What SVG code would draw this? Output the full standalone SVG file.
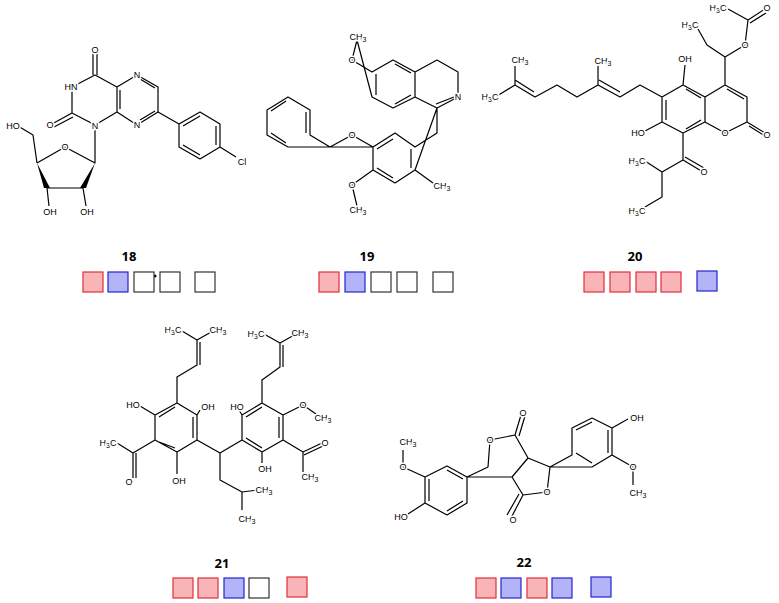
<svg xmlns="http://www.w3.org/2000/svg" width="779" height="603" viewBox="0 0 779 603">
<style>
.b{stroke:#000;stroke-width:1.2;fill:none;stroke-linejoin:round}
.t{font-family:"Liberation Sans",Arial,sans-serif;font-size:9px;fill:#000;stroke:#fff;stroke-width:3;paint-order:stroke;text-anchor:middle;dominant-baseline:central}
.n{font-family:"Open Sans","Liberation Sans",sans-serif;font-size:13px;font-weight:bold;text-anchor:middle;fill:#000}
.r{fill:#f8b4b6;stroke:#e0303a;stroke-width:1.2}
.u{fill:#b3b3f8;stroke:#2424d0;stroke-width:1.2}
.w{fill:#fff;stroke:#333;stroke-width:1.2}
</style>
<rect width="779" height="603" fill="#fff"/>
<g id="connectors">
<!-- 18 -->
<path class="b" d="M95,75 L72,87 L72,113 L95,125 L117,112 L117,87 L95,75 M93,75 L93,52 M97,75 L97,52 M72,113 L52,124 M73,117 L54,127 M120,90 L120,109 M117,87 L137,75 L158,87 L158,112 L137,125 L117,112 M140,79 L155,88 M155,111 L140,120 M158,112 L179,124 M179,124 L200,112 L220,124 L220,147 L200,159 L179,147 Z M183,126 L200,116 M216,126 L216,145 M183,145 L200,155 M220,147 L236,157 M95,125 L95,163 L65,147 L37,163 M83,188 L47,188 M37,163 L33,135 L18,126 M47,188 L49,206 M83,188 L86,206"/>
<path d="M37,163 L44,188 L50,188 Z M95,163 L80,188 L86,188 Z" fill="#000"/>
<circle cx="155" cy="276" r="1.5" fill="#000"/>
<!-- 19 -->
<path class="b" d="M357,40 L352,60 L372,72 L393,60 L415,72 L415,97 L393,108 L372,97 Z M376,74 L376,95 M395,64 L411,73 M395,104 L411,95 M415,72 L437,60 L458,72 L458,97 L437,108 L415,97 M454,97 L436,104 M437,108 L437,133 L415,147 L395,133 L373,147 L373,170 L395,183 L415,170 Z M411,149 L411,168 M377,149 L393,139 M377,168 L393,178 M415,170 L433,183 M373,147 L352,135 L330,147 L310,135 L310,110 L288,97 L267,110 L267,135 L288,147 Z M306,112 L306,133 M286,101 L271,111 M271,133 L286,143 M373,170 L352,185 L357,206"/>
<!-- 20 -->
<path class="b" d="M683,85 L662,97 L662,122 L683,133 L705,122 L705,97 Z M686,89 L701,98 M666,100 L666,120 M686,129 L701,120 M705,97 L725,85 L747,97 L747,122 L725,133 L705,122 M727,89 L744,99 M747,122 L765,133 M749,126 L765,136 M683,85 L685,65 M662,122 L645,131 M683,133 L683,160 L703,172 M685,157 L704,168 M683,160 L662,172 L645,161 M662,172 L662,197 L645,207 M725,85 L725,57 L745,45 M725,57 L707,45 L698,29 M745,45 L748,20 L765,9 M750,23 L766,13 M748,20 L728,9 M662,97 L640,85 L620,97 L598,85 M620,92 L599,80 M598,85 L598,66 M598,85 L577,97 L557,85 L535,97 L515,85 M534,92 L515,80 M515,85 L515,66 M515,85 L497,96"/>
<!-- 21 -->
<path class="b" d="M177,403 L197,415 L197,440 L177,452 L155,440 L155,415 Z M193,417 L193,438 M159,442 L175,448 M159,417 L175,407 M155,415 L140,406 M155,440 L133,453 L133,478 M136,453 L136,478 M133,453 L117,443 M177,452 L177,474 M197,415 L200,410 M177,403 L177,377 L197,365 L197,340 M200,365 L200,342 M197,340 L182,331 M197,340 L213,331 M197,440 L220,453 L242,440 M220,453 L220,480 L242,492 L258,490 M242,492 L242,510 M242,440 L242,415 L262,403 L283,415 L283,440 L262,452 Z M246,417 L262,407 M279,417 L279,438 M246,438 L262,448 M242,415 L239,410 M262,403 L262,380 L280,367 L280,343 M283,367 L283,345 M280,343 L264,334 M280,343 L296,334 M283,415 L303,405 L316,414 M283,440 L303,452 L322,443 M304,455 L323,446 M303,452 L303,472 M262,452 L262,463"/>
<!-- 22 -->
<path class="b" d="M425,477 L447,466 L467,477 L467,503 L447,515 L425,503 Z M429,479 L429,501 M447,470 L463,479 M447,511 L463,501 M425,477 L403,467 L403,450 M425,503 L408,514 M467,477 L488,467 L490,440 L515,435 L528,458 L512,477 Z M515,435 L521,415 M519,436 L525,416 M528,458 L550,467 L547,492 L523,495 L512,477 M523,495 L511,518 M519,494 L507,515 M550,467 L572,455 L572,428 L592,418 L612,428 L612,455 L592,467 Z M576,430 L592,422 M608,430 L608,453 M576,453 L592,463 M612,428 L628,419 M612,455 L633,467 L633,485"/>
</g>
<g id="labels">
<text class="t" x="95" y="50">O</text><text class="t" x="71" y="87">HN</text><text class="t" x="50" y="125">O</text><text class="t" x="95" y="126">N</text><text class="t" x="137" y="75">N</text><text class="t" x="137" y="125">N</text><text class="t" x="242" y="162">Cl</text><text class="t" x="65" y="147">O</text><text class="t" x="13" y="126">HO</text><text class="t" x="50" y="212">OH</text><text class="t" x="87" y="212">OH</text>
<text class="t" x="358" y="37">CH<tspan font-size="7" dy="2">3</tspan></text><text class="t" x="352" y="60">O</text><text class="t" x="458" y="97">N</text><text class="t" x="352" y="135">O</text><text class="t" x="352" y="185">O</text><text class="t" x="358" y="210">CH<tspan font-size="7" dy="2">3</tspan></text><text class="t" x="442" y="186">CH<tspan font-size="7" dy="2">3</tspan></text>
<text class="t" x="685" y="59">OH</text><text class="t" x="638" y="133">HO</text><text class="t" x="725" y="133">O</text><text class="t" x="767" y="135">O</text><text class="t" x="745" y="45">O</text><text class="t" x="767" y="8">O</text><text class="t" x="718" y="8">H<tspan font-size="7" dy="2">3</tspan><tspan dy="-2">C</tspan></text><text class="t" x="690" y="25">H<tspan font-size="7" dy="2">3</tspan><tspan dy="-2">C</tspan></text><text class="t" x="704" y="172">O</text><text class="t" x="637" y="161">H<tspan font-size="7" dy="2">3</tspan><tspan dy="-2">C</tspan></text><text class="t" x="637" y="211">H<tspan font-size="7" dy="2">3</tspan><tspan dy="-2">C</tspan></text><text class="t" x="603" y="61">CH<tspan font-size="7" dy="2">3</tspan></text><text class="t" x="520" y="60">CH<tspan font-size="7" dy="2">3</tspan></text><text class="t" x="490" y="97">H<tspan font-size="7" dy="2">3</tspan><tspan dy="-2">C</tspan></text>
<text class="t" x="133" y="405">HO</text><text class="t" x="208" y="407">OH</text><text class="t" x="237" y="407">HO</text><text class="t" x="129" y="482">O</text><text class="t" x="108" y="443">H<tspan font-size="7" dy="2">3</tspan><tspan dy="-2">C</tspan></text><text class="t" x="179" y="481">OH</text><text class="t" x="173" y="330">H<tspan font-size="7" dy="2">3</tspan><tspan dy="-2">C</tspan></text><text class="t" x="218" y="330">CH<tspan font-size="7" dy="2">3</tspan></text><text class="t" x="256" y="334">H<tspan font-size="7" dy="2">3</tspan><tspan dy="-2">C</tspan></text><text class="t" x="300" y="333">CH<tspan font-size="7" dy="2">3</tspan></text><text class="t" x="303" y="405">O</text><text class="t" x="323" y="418">CH<tspan font-size="7" dy="2">3</tspan></text><text class="t" x="325" y="443">O</text><text class="t" x="310" y="477">CH<tspan font-size="7" dy="2">3</tspan></text><text class="t" x="265" y="469">OH</text><text class="t" x="264" y="490">CH<tspan font-size="7" dy="2">3</tspan></text><text class="t" x="247" y="519">CH<tspan font-size="7" dy="2">3</tspan></text>
<text class="t" x="408" y="442">CH<tspan font-size="7" dy="2">3</tspan></text><text class="t" x="403" y="467">O</text><text class="t" x="401" y="517">HO</text><text class="t" x="490" y="440">O</text><text class="t" x="523" y="413">O</text><text class="t" x="547" y="492">O</text><text class="t" x="513" y="520">O</text><text class="t" x="637" y="418">OH</text><text class="t" x="633" y="467">O</text><text class="t" x="638" y="493">CH<tspan font-size="7" dy="2">3</tspan></text>
</g>
<g id="n18"><text class="n" x="129" y="261">18</text><rect class="r" x="83" y="272" width="20" height="20"/><rect class="u" x="108" y="272" width="20" height="20"/><rect class="w" x="134" y="272" width="20" height="20"/><rect class="w" x="160" y="272" width="20" height="20"/><rect class="w" x="195" y="272" width="20" height="20"/></g>
<g id="n19"><text class="n" x="367" y="261">19</text><rect class="r" x="319" y="272" width="20" height="20"/><rect class="u" x="345" y="272" width="20" height="20"/><rect class="w" x="371" y="272" width="20" height="20"/><rect class="w" x="397" y="272" width="20" height="20"/><rect class="w" x="433" y="272" width="20" height="20"/></g>
<g id="n20"><text class="n" x="635" y="261">20</text><rect class="r" x="584" y="272" width="20" height="20"/><rect class="r" x="610" y="272" width="20" height="20"/><rect class="r" x="636" y="272" width="20" height="20"/><rect class="r" x="661" y="272" width="20" height="20"/><rect class="u" x="697" y="271" width="20" height="20"/></g>
<g id="n21"><text class="n" x="222" y="568">21</text><rect class="r" x="173" y="578" width="20" height="20"/><rect class="r" x="198" y="578" width="20" height="20"/><rect class="u" x="224" y="578" width="20" height="20"/><rect class="w" x="249" y="578" width="20" height="20"/><rect class="r" x="287" y="577" width="20" height="20"/></g>
<g id="n22"><text class="n" x="524" y="567">22</text><rect class="r" x="476" y="578" width="20" height="20"/><rect class="u" x="501" y="578" width="20" height="20"/><rect class="r" x="527" y="578" width="20" height="20"/><rect class="u" x="552" y="578" width="20" height="20"/><rect class="u" x="591" y="577" width="20" height="20"/></g>
</svg>
